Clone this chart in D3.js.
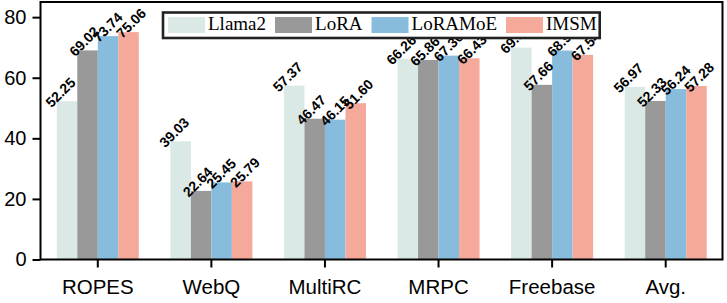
<!DOCTYPE html>
<html>
<head>
<meta charset="utf-8">
<script src="https://cdn.jsdelivr.net/npm/d3@7"></script>
<style>
  body { margin: 0; background: #fff; }
  svg { display: block; }
</style>
</head>
<body>
<svg id="chart" width="727" height="303"></svg>
<script>
const categories = ["ROPES", "WebQ", "MultiRC", "MRPC", "Freebase", "Avg."];
const seriesNames = ["Llama2", "LoRA", "LoRAMoE", "IMSM"];
const llama2  = [52.25, 39.03, 57.37, 66.26, 69.94, 56.97];
const lora    = [69.02, 22.64, 46.47, 65.86, 57.66, 52.33];
const loramoe = [73.74, 25.45, 46.15, 67.30, 68.97, 56.24];
const imsm    = [75.06, 25.79, 51.60, 66.43, 67.54, 57.28];
const yTicks  = [0, 20, 40, 60, 80];
const colors  = ["#dbe9e6", "#999999", "#87bcdc", "#f4a99b"];

const seriesValues = [llama2, lora, loramoe, imsm];

const svg = d3.select("#chart");
const plot = { left: 41, right: 722.5, top: 2, bottom: 259.5 };

const x = d3.scaleBand().domain(categories).range([plot.left, plot.right]).padding(0);
const y = d3.scaleLinear().domain([0, 85]).range([plot.bottom, plot.top]);

const groupW = x.bandwidth() * 0.722;
const xs = d3.scaleBand().domain(seriesNames).range([-groupW / 2, groupW / 2]).padding(0);
// labels spread a bit wider than the bars
const labelW = groupW * 1.15;
const xl = d3.scaleBand().domain(seriesNames).range([-labelW / 2 - 2, labelW / 2 - 2]).padding(0);

// bars
seriesNames.forEach((s, si) => {
  svg.append("g").selectAll("rect")
    .data(categories.map((c, ci) => ({ c, v: seriesValues[si][ci] })))
    .join("rect")
    .attr("x", d => x(d.c) + x.bandwidth() / 2 + xs(s))
    .attr("y", d => y(d.v))
    .attr("width", xs.bandwidth())
    .attr("height", d => y(0) - y(d.v))
    .attr("fill", colors[si]);
});

// value labels, rotated 45°
seriesNames.forEach((s, si) => {
  svg.append("g").selectAll("text")
    .data(categories.map((c, ci) => ({ c, v: seriesValues[si][ci] })))
    .join("text")
    .attr("transform", d => {
      const cx = x(d.c) + x.bandwidth() / 2 + xl(s) + xl.bandwidth() / 2;
      const cy = y(d.v) - 9;
      return "translate(" + cx.toFixed(2) + "," + cy.toFixed(2) + ") rotate(-45)";
    })
    .attr("text-anchor", "middle")
    .attr("dy", "0.36em")
    .attr("font-family", "Liberation Sans, Arial, sans-serif")
    .attr("font-size", 14)
    .attr("font-weight", "bold")
    .attr("fill", "#000")
    .text(d => d.v.toFixed(2));
});

// axes
const yAxis = d3.axisLeft(y).tickValues(yTicks).tickSize(8).tickPadding(6).tickFormat(d3.format("d"));
const gy = svg.append("g").attr("transform", `translate(${plot.left - 0.5},0)`).call(yAxis);
gy.select(".domain").remove();
gy.selectAll(".tick line").attr("stroke", "#000").attr("stroke-width", 2);
gy.selectAll(".tick text").attr("font-family", "Liberation Sans, Arial, sans-serif").attr("font-size", 20).attr("fill", "#000");

const xAxis = d3.axisBottom(x).tickSize(8).tickPadding(12);
const gx = svg.append("g").attr("transform", `translate(0,${plot.bottom})`).call(xAxis);
gx.select(".domain").remove();
gx.selectAll(".tick line").attr("stroke", "#000").attr("stroke-width", 2);
gx.selectAll(".tick text").attr("font-family", "Liberation Sans, Arial, sans-serif").attr("font-size", 20.5).attr("fill", "#000");

// frame
svg.append("rect")
  .attr("x", plot.left - 0.5).attr("y", plot.top)
  .attr("width", plot.right - plot.left + 0.5).attr("height", plot.bottom - plot.top)
  .attr("fill", "none").attr("stroke", "#000").attr("stroke-width", 2);

// legend (on top of labels)
const leg = svg.append("g");
const legBox = leg.append("rect")
  .attr("x", 163).attr("y", 12.5).attr("height", 25.5)
  .attr("fill", "#fff").attr("stroke", "#222").attr("stroke-width", 2.6);
let lx = 168;
seriesNames.forEach((s, si) => {
  leg.append("rect").attr("x", lx).attr("y", 17).attr("width", 37).attr("height", 16).attr("fill", colors[si]);
  const t = leg.append("text")
    .attr("x", lx + 40).attr("y", 30)
    .attr("font-family", "Liberation Serif, Times New Roman, serif")
    .attr("font-size", 19)
    .attr("fill", "#000")
    .text(s);
  lx = lx + 40 + t.node().getComputedTextLength() + 9;
});
legBox.attr("width", lx - 9 + 3 - 163);
</script>
</body>
</html>
